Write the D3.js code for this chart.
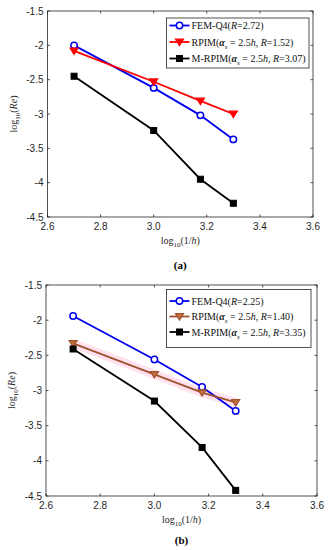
<!DOCTYPE html>
<html>
<head>
<meta charset="utf-8">
<script src="https://cdn.jsdelivr.net/npm/d3@7"></script>
<style>
  body { margin: 0; background: #fff; }
  svg { display: block; }
  .tick-label { font-family: "Liberation Sans", Arial, sans-serif; font-size: 10px; fill: #262626; }
  .serif { font-family: "Liberation Serif", "Times New Roman", serif; }
</style>
</head>
<body>
<div id="chart"></div>
<script>
// x positions: log10(1/h)
const xValues = [2.7, 3.0, 3.176, 3.3];

// Panel (a)
const femA = [-2.0, -2.62, -3.02, -3.37];
const rpimA = [-2.08, -2.53, -2.81, -3.0];
const mrpimA = [-2.45, -3.24, -3.95, -4.3];
const rA = ['2.72', '1.52', '3.07'];

// Panel (b)
const femB = [-1.94, -2.56, -2.95, -3.29];
const rpimB = [-2.33, -2.77, -3.03, -3.17];
const mrpimB = [-2.41, -3.15, -3.81, -4.42];
const rB = ['2.25', '1.40', '3.35'];

const xTicks = [2.6, 2.8, 3.0, 3.2, 3.4, 3.6];
const yTicks = [-1.5, -2, -2.5, -3, -3.5, -4, -4.5];

const width = 330, height = 550;
const svg = d3.select('#chart')
  .append('svg')
    .attr('width', width)
    .attr('height', height);

function drawPanel(cfg) {
  const x = d3.scaleLinear().domain([2.6, 3.6]).range([cfg.left, cfg.right]);
  const y = d3.scaleLinear().domain([-4.5, -1.5]).range([cfg.bottom, cfg.top]);
  const g = svg.append('g');

  // axes box
  g.append('rect')
    .attr('x', cfg.left).attr('y', cfg.top)
    .attr('width', cfg.right - cfg.left).attr('height', cfg.bottom - cfg.top)
    .attr('fill', 'none').attr('stroke', '#262626').attr('stroke-width', 0.8);

  // inward ticks on all sides
  const tl = 2.5;
  xTicks.forEach(t => {
    g.append('line').attr('x1', x(t)).attr('x2', x(t)).attr('y1', cfg.bottom).attr('y2', cfg.bottom - tl)
      .attr('stroke', '#262626').attr('stroke-width', 0.8);
    g.append('line').attr('x1', x(t)).attr('x2', x(t)).attr('y1', cfg.top).attr('y2', cfg.top + tl)
      .attr('stroke', '#262626').attr('stroke-width', 0.8);
    g.append('text').attr('class', 'tick-label')
      .attr('x', x(t)).attr('y', cfg.bottom + 13)
      .attr('text-anchor', 'middle')
      .text(d3.format('.1f')(t));
  });
  yTicks.forEach(t => {
    g.append('line').attr('x1', cfg.left).attr('x2', cfg.left + tl).attr('y1', y(t)).attr('y2', y(t))
      .attr('stroke', '#262626').attr('stroke-width', 0.8);
    g.append('line').attr('x1', cfg.right).attr('x2', cfg.right - tl).attr('y1', y(t)).attr('y2', y(t))
      .attr('stroke', '#262626').attr('stroke-width', 0.8);
    g.append('text').attr('class', 'tick-label')
      .attr('x', cfg.left - 4).attr('y', y(t) + 3.5)
      .attr('text-anchor', 'end')
      .text(t);
  });

  // axis labels
  const xl = g.append('text').attr('class', 'serif')
    .attr('x', (cfg.left + cfg.right) / 2).attr('y', cfg.bottom + 27)
    .attr('text-anchor', 'middle').attr('font-size', 10).attr('fill', '#262626');
  xl.append('tspan').text('log');
  xl.append('tspan').attr('font-size', 7).attr('dy', 3).text('10');
  xl.append('tspan').attr('dy', -3).text('(1/');
  xl.append('tspan').attr('font-style', 'italic').text('h');
  xl.append('tspan').text(')');

  const yl = g.append('text').attr('class', 'serif')
    .attr('transform', `translate(${cfg.left - 31},${(cfg.top + cfg.bottom) / 2}) rotate(-90)`)
    .attr('text-anchor', 'middle').attr('font-size', 10).attr('fill', '#262626');
  yl.append('tspan').text('log');
  yl.append('tspan').attr('font-size', 7).attr('dy', 3).text('10');
  yl.append('tspan').attr('dy', -3).text('(');
  yl.append('tspan').attr('font-style', 'italic').text('Re');
  yl.append('tspan').text(')');

  // panel caption
  g.append('text').attr('class', 'serif')
    .attr('x', (cfg.left + cfg.right) / 2).attr('y', cfg.captionY)
    .attr('text-anchor', 'middle').attr('font-size', 11).attr('font-weight', 'bold')
    .text(cfg.caption);

  const line = d3.line().x((d, i) => x(xValues[i])).y(d => y(d));

  // pink halo behind brown series in panel (b)
  if (cfg.halo) {
    g.append('path').datum(cfg.series[1].values)
      .attr('d', line).attr('fill', 'none')
      .attr('stroke', '#ffd9ec').attr('stroke-width', 9).attr('opacity', 0.8);
  }

  cfg.series.forEach(s => {
    g.append('path').datum(s.values)
      .attr('d', line).attr('fill', 'none')
      .attr('stroke', s.color).attr('stroke-width', 1.8);
    drawMarkers(g, s, s.values.map((v, i) => [x(xValues[i]), y(v)]));
  });

  // legend
  const lg = g.append('g');
  lg.append('rect')
    .attr('x', cfg.legend.x).attr('y', cfg.legend.y)
    .attr('width', cfg.legend.w).attr('height', cfg.legend.h)
    .attr('fill', '#fff').attr('stroke', '#262626').attr('stroke-width', 0.8);
  cfg.series.forEach((s, i) => {
    const ly = cfg.legend.y + cfg.legend.rowTop + i * cfg.legend.rowGap;
    const lx = cfg.legend.x + 3;
    lg.append('line').attr('x1', lx).attr('x2', lx + 20).attr('y1', ly).attr('y2', ly)
      .attr('stroke', s.color).attr('stroke-width', 1.8);
    drawMarkers(lg, s, [[lx + 10, ly]]);
    const t = lg.append('text').attr('class', 'serif')
      .attr('x', lx + 22).attr('y', ly + 3.5).attr('font-size', 10).attr('fill', '#111');
    if (i === 0) {
      t.append('tspan').text('FEM-Q4(');
    } else {
      t.append('tspan').text(i === 1 ? 'RPIM(' : 'M-RPIM(');
      t.append('tspan').attr('font-style', 'italic').attr('font-weight', 'bold').text('α');
      t.append('tspan').attr('font-style', 'italic').attr('font-size', 7).attr('dy', 3).text('s');
      t.append('tspan').attr('dy', -3).text(' = 2.5');
      t.append('tspan').attr('font-style', 'italic').text('h');
      t.append('tspan').text(', ');
    }
    t.append('tspan').attr('font-style', 'italic').text('R');
    t.append('tspan').text('=' + cfg.rValues[i] + ')');
  });
}

function drawMarkers(g, s, pts) {
  pts.forEach(([px, py]) => {
    if (s.marker === 'circle') {
      g.append('circle').attr('cx', px).attr('cy', py).attr('r', 3.2)
        .attr('fill', '#fff').attr('stroke', s.color).attr('stroke-width', 1.5);
    } else if (s.marker === 'triangle') {
      const r = 4;
      g.append('path')
        .attr('d', `M${px - r},${py - r * 0.7}L${px + r},${py - r * 0.7}L${px},${py + r * 0.9}Z`)
        .attr('fill', s.fill).attr('stroke', s.color).attr('stroke-width', 1.2);
    } else {
      g.append('rect').attr('x', px - 3).attr('y', py - 3).attr('width', 6).attr('height', 6)
        .attr('fill', s.color).attr('stroke', s.color).attr('stroke-width', 1);
    }
  });
}

drawPanel({
  left: 47.5, right: 313, top: 11, bottom: 217,
  caption: '(a)', captionY: 269, rValues: rA,
  legend: { x: 166.5, y: 18, w: 142.5, h: 50, rowTop: 7.5, rowGap: 16.5 },
  series: [
    { values: femA, color: '#0000ee', marker: 'circle' },
    { values: rpimA, color: '#ff0000', fill: '#ff0000', marker: 'triangle' },
    { values: mrpimA, color: '#000', marker: 'square' }
  ]
});

drawPanel({
  left: 46, right: 317, top: 285, bottom: 496,
  caption: '(b)', captionY: 544, rValues: rB, halo: true,
  legend: { x: 166.5, y: 289.5, w: 144.5, h: 58, rowTop: 11.5, rowGap: 15.5 },
  series: [
    { values: femB, color: '#0000ee', marker: 'circle' },
    { values: rpimB, color: '#a0522d', fill: '#c07040', marker: 'triangle' },
    { values: mrpimB, color: '#000', marker: 'square' }
  ]
});
</script>
</body>
</html>
